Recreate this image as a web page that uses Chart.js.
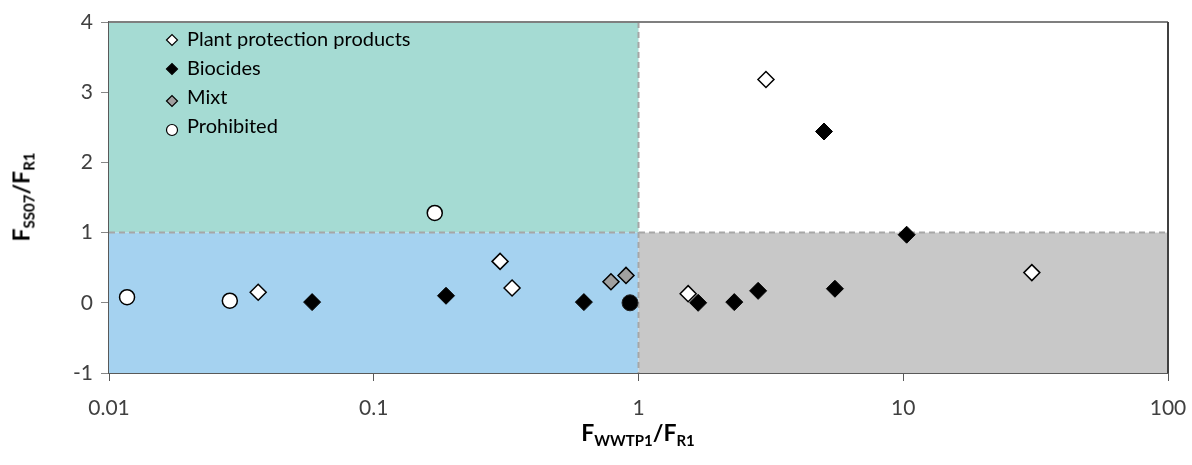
<!DOCTYPE html>
<html>
<head>
<meta charset="utf-8">
<script src="https://cdn.jsdelivr.net/npm/chart.js@4.4.1/dist/chart.umd.min.js"></script>
<style>
    body { margin: 0; background: #fff; font-family: Lato, sans-serif; }
    #wrap { position: relative; width: 1192px; height: 465px; }
    .axisTitle { position: absolute; font-weight: bold; font-size: 23px; color: #000; white-space: nowrap; }
    .axisTitle sub { font-size: 15px; vertical-align: -5px; }
    #xTitle { left: 638px; top: 433px; transform: translate(-50%, -50%); }
    #yTitle { left: 22px; top: 197px; transform: translate(-50%, -50%) rotate(-90deg); }
</style>
</head>
<body>
<div id="wrap">
    <canvas id="chart" width="1192" height="465"></canvas>
    <div class="axisTitle" id="xTitle">F<sub>WWTP1</sub>/F<sub>R1</sub></div>
    <div class="axisTitle" id="yTitle">F<sub>SS07</sub>/F<sub>R1</sub></div>
</div>
<script>
// data: [F_WWTP1/F_R1, F_SS07/F_R1]
const plantProtection = [[0.0366, 0.15], [0.30, 0.59], [0.333, 0.21], [1.54, 0.13], [3.03, 3.18], [30.6, 0.43]];
const biocides = [[0.0585, 0.01], [0.1875, 0.10], [0.622, 0.01], [1.68, 0.0], [2.30, 0.01], [2.83, 0.17], [5.02, 2.44], [5.52, 0.20], [10.3, 0.97]];
const mixt = [[0.787, 0.30], [0.897, 0.39]];
const prohibited = [[0.0117, 0.08], [0.0286, 0.03], [0.170, 1.28]];
const prohibitedBiocide = [[0.929, 0.0]];

const xTicks = [0.01, 0.1, 1, 10, 100];
const yTicks = [-1, 0, 1, 2, 3, 4];
const threshold = 1; // quadrant limit on both axes

const toPoints = arr => arr.map(p => ({ x: p[0], y: p[1] }));

// coloured quadrants + dashed limits + top/right frame
const quadrants = {
    id: 'quadrants',
    beforeDatasetsDraw(chart) {
        const { ctx, chartArea: a, scales: { x, y } } = chart;
        const xt = x.getPixelForValue(threshold);
        const yt = y.getPixelForValue(threshold);
        ctx.save();
        ctx.fillStyle = '#A5DBD3';
        ctx.fillRect(a.left, a.top, xt - a.left, yt - a.top);
        ctx.fillStyle = '#A5D2F0';
        ctx.fillRect(a.left, yt, xt - a.left, a.bottom - yt);
        ctx.fillStyle = '#C8C8C8';
        ctx.fillRect(xt, yt, a.right - xt, a.bottom - yt);

        ctx.strokeStyle = '#A6A6A6';
        ctx.lineWidth = 2;
        ctx.setLineDash([6, 4]);
        ctx.beginPath();
        ctx.moveTo(xt, a.top);
        ctx.lineTo(xt, a.bottom);
        ctx.moveTo(a.left, yt);
        ctx.lineTo(a.right, yt);
        ctx.stroke();

        ctx.setLineDash([]);
        ctx.lineWidth = 2;
        ctx.strokeStyle = '#7F7F7F';
        ctx.beginPath();
        ctx.moveTo(a.left, a.top);
        ctx.lineTo(a.right, a.top);
        ctx.stroke();
        ctx.strokeStyle = '#404040';
        ctx.beginPath();
        ctx.moveTo(a.right, a.top);
        ctx.lineTo(a.right, a.bottom);
        ctx.stroke();
        ctx.restore();
    }
};

// legend drawn inside the plot, top-left
const innerLegend = {
    id: 'innerLegend',
    afterDatasetsDraw(chart) {
        const { ctx } = chart;
        const x0 = 172, y0 = 40, step = 29;
        ctx.save();
        let row = 0;
        chart.data.datasets.forEach(ds => {
            if (ds.hideInLegend) return;
            const cy = y0 + row * step;
            ctx.fillStyle = ds.backgroundColor;
            ctx.strokeStyle = ds.borderColor;
            ctx.lineWidth = 1.2;
            Chart.helpers.drawPoint(ctx, { pointStyle: ds.pointStyle, radius: 5.5, borderWidth: 1.2 }, x0, cy + (ds.legendShift || 0));
            ctx.fillStyle = '#000';
            ctx.font = '20px Lato';
            ctx.textBaseline = 'middle';
            ctx.fillText(ds.label, x0 + 15, cy);
            row++;
        });
        ctx.restore();
    }
};

document.addEventListener('DOMContentLoaded', () => {
    const ctx = document.getElementById('chart').getContext('2d');
    new Chart(ctx, {
        type: 'scatter',
        data: {
            datasets: [
                {
                    label: 'Plant protection products',
                    data: toPoints(plantProtection),
                    pointStyle: 'rectRot', pointRadius: 8,
                    backgroundColor: '#FFFFFF', borderColor: '#000000', borderWidth: 1.5
                },
                {
                    label: 'Biocides',
                    data: toPoints(biocides),
                    pointStyle: 'rectRot', pointRadius: 8.5,
                    backgroundColor: '#000000', borderColor: '#000000', borderWidth: 1
                },
                {
                    label: 'Mixt',
                    data: toPoints(mixt),
                    pointStyle: 'rectRot', pointRadius: 8,
                    backgroundColor: '#A0A0A0', borderColor: '#000000', borderWidth: 1.5,
                    legendShift: 3
                },
                {
                    label: 'Prohibited',
                    data: toPoints(prohibited),
                    pointStyle: 'circle', pointRadius: 7.5,
                    backgroundColor: '#FFFFFF', borderColor: '#000000', borderWidth: 1.5,
                    legendShift: 3
                },
                {
                    label: 'Prohibited biocide',
                    data: toPoints(prohibitedBiocide),
                    pointStyle: 'circle', pointRadius: 8,
                    backgroundColor: '#000000', borderColor: '#222222', borderWidth: 1,
                    hideInLegend: true
                }
            ]
        },
        options: {
            responsive: false,
            animation: false,
            layout: { padding: { left: 0, top: 22, right: 24, bottom: 0 } },
            plugins: {
                legend: { display: false },
                tooltip: { enabled: false }
            },
            scales: {
                x: {
                    type: 'logarithmic',
                    min: xTicks[0],
                    max: xTicks[xTicks.length - 1],
                    afterBuildTicks: scale => { scale.ticks = xTicks.map(v => ({ value: v })); },
                    afterFit: scale => {
                        scale.height = 92;
                        scale.paddingLeft = 0;
                        scale.paddingRight = 0;
                    },
                    ticks: {
                        callback: v => String(v),
                        font: { family: 'Lato', size: 21 },
                        color: '#404040',
                        padding: 15,
                        maxRotation: 0
                    },
                    grid: { drawOnChartArea: false, drawTicks: true, tickLength: 8, color: '#595959', lineWidth: 1 },
                    border: { display: true, color: '#595959', width: 2 }
                },
                y: {
                    min: yTicks[0],
                    max: yTicks[yTicks.length - 1],
                    afterBuildTicks: scale => { scale.ticks = yTicks.map(v => ({ value: v })); },
                    afterFit: scale => {
                        scale.width = 109;
                        scale.paddingTop = 0;
                        scale.paddingBottom = 0;
                    },
                    ticks: {
                        font: { family: 'Lato', size: 21 },
                        color: '#404040',
                        padding: 8
                    },
                    grid: { drawOnChartArea: false, drawTicks: true, tickLength: 8, color: '#868686', lineWidth: 1 },
                    border: { display: true, color: '#595959', width: 2 }
                }
            }
        },
        plugins: [quadrants, innerLegend]
    });
});
</script>
</body>
</html>
